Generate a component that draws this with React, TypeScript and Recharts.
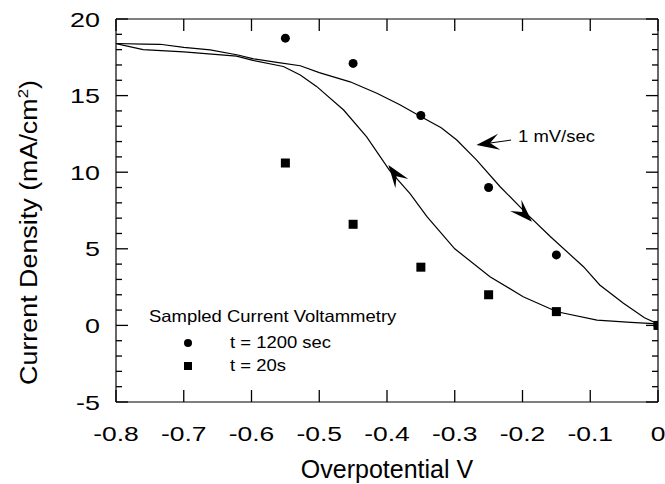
import React from 'react';
import { ComposedChart, Line, Scatter, XAxis, YAxis, ReferenceDot, Legend, Label } from 'recharts';

const FONT = '"Liberation Sans", Arial, Helvetica, sans-serif';

const xTicks = [-0.8, -0.7, -0.6, -0.5, -0.4, -0.3, -0.2, -0.1, 0];
const yTicks = [-5, -4, -3, -2, -1, 0, 1, 2, 3, 4, 5, 6, 7, 8, 9, 10, 11, 12, 13, 14, 15, 16, 17, 18, 19, 20];
const yLabelTicks = [-5, 0, 5, 10, 15, 20];

// 1 mV/sec sweep, forward (cathodic -> 0)
const forwardSweep = [
  { x: -0.8, y: 18.4 },
  { x: -0.76, y: 18.36 },
  { x: -0.735, y: 18.35 },
  { x: -0.7, y: 18.15 },
  { x: -0.661, y: 17.98 },
  { x: -0.62, y: 17.65 },
  { x: -0.597, y: 17.4 },
  { x: -0.56, y: 17.15 },
  { x: -0.528, y: 16.95 },
  { x: -0.5, y: 16.5 },
  { x: -0.4545, y: 15.9 },
  { x: -0.415, y: 15.15 },
  { x: -0.381, y: 14.4 },
  { x: -0.349, y: 13.6 },
  { x: -0.32, y: 12.9 },
  { x: -0.297, y: 12.1 },
  { x: -0.268, y: 10.8 },
  { x: -0.233, y: 9.05 },
  { x: -0.194, y: 7.3 },
  { x: -0.159, y: 5.8 },
  { x: -0.11, y: 3.83 },
  { x: -0.086, y: 2.64 },
  { x: -0.051, y: 1.44 },
  { x: -0.02, y: 0.5 },
  { x: 0, y: 0.1 },
];

// reverse sweep (0 -> cathodic)
const reverseSweep = [
  { x: -0.8, y: 18.4 },
  { x: -0.76, y: 18.0 },
  { x: -0.7, y: 17.85 },
  { x: -0.622, y: 17.58 },
  { x: -0.598, y: 17.3 },
  { x: -0.553, y: 16.9 },
  { x: -0.528, y: 16.35 },
  { x: -0.504, y: 15.6 },
  { x: -0.464, y: 14.06 },
  { x: -0.43, y: 12.3 },
  { x: -0.396, y: 10.1 },
  { x: -0.366, y: 8.6 },
  { x: -0.341, y: 7.1 },
  { x: -0.3, y: 5.0 },
  { x: -0.248, y: 3.18 },
  { x: -0.199, y: 1.87 },
  { x: -0.149, y: 0.89 },
  { x: -0.09, y: 0.35 },
  { x: -0.04, y: 0.2 },
  { x: 0, y: 0.1 },
];

const sampled1200 = [
  { x: -0.55, y: 18.75 },
  { x: -0.45, y: 17.1 },
  { x: -0.35, y: 13.7 },
  { x: -0.25, y: 9.0 },
  { x: -0.15, y: 4.6 },
  { x: 0, y: 0 },
];

const sampled20 = [
  { x: -0.55, y: 10.6 },
  { x: -0.45, y: 6.6 },
  { x: -0.35, y: 3.8 },
  { x: -0.25, y: 2.0 },
  { x: -0.15, y: 0.9 },
  { x: 0, y: 0 },
];

const arrowMarks = [
  { x: -0.398, y: 10.47, angle: -126, tail: 0 },
  { x: -0.186, y: 6.77, angle: 45, tail: 0 },
  { x: -0.268, y: 11.78, angle: 172, tail: 35 },
];

const annotation = { x: -0.2066, y: 11.97, text: '1 mV/sec' };
const legendTitle = 'Sampled Current Voltammetry';

const fmtX = (v: number) => (v === 0 ? '0' : v.toFixed(1));

const TW = 1.3;

const LeftTick = (p: any) => {
  const { x, y, payload } = p;
  const v = payload.value;
  const major = yLabelTicks.includes(v);
  return (
    <g>
      <rect x={x} y={y - TW / 2} width={major ? 12 : 6} height={TW} fill="#000" />
      {major && (
        <text transform={`translate(${x - 16},${y + 7.5}) scale(1.28,1)`} textAnchor="end" fontSize={21} fontFamily={FONT} fill="#000">
          {v}
        </text>
      )}
    </g>
  );
};

const RightTick = (p: any) => {
  const { x, y, payload } = p;
  const len = yLabelTicks.includes(payload.value) ? 12 : 6;
  return <rect x={x - len} y={y - TW / 2} width={len} height={TW} fill="#000" />;
};

const BottomTick = (p: any) => {
  const { x, y, payload } = p;
  return (
    <g>
      <rect x={x - TW / 2} y={y - 12} width={TW} height={12} fill="#000" />
      <text transform={`translate(${x},${y + 39}) scale(1.26,1)`} textAnchor="middle" fontSize={21} fontFamily={FONT} fill="#000">
        {fmtX(payload.value)}
      </text>
    </g>
  );
};

const TopTick = (p: any) => {
  const { x, y } = p;
  return <rect x={x - TW / 2} y={y} width={TW} height={12} fill="#000" />;
};

const XTitle = (p: any) => {
  const vb = p.viewBox;
  return (
    <text x={vb.x + vb.width / 2} y={vb.y + 76} textAnchor="middle" fontSize={25} fontFamily={FONT} fill="#000">
      Overpotential V
    </text>
  );
};

const YTitle = (p: any) => {
  const vb = p.viewBox;
  const cx = vb.x + 37;
  const cy = vb.y + vb.height / 2 + 22;
  return (
    <text transform={`translate(${cx},${cy}) rotate(-90) scale(1.12,1)`} textAnchor="middle" fontSize={24} fontFamily={FONT} fill="#000">
      <tspan>Current Density (mA/cm</tspan>
      <tspan dy={-9} fontSize={15}>2</tspan>
      <tspan dy={9}>)</tspan>
    </text>
  );
};

const Arrow = ({ cx, cy, angle, tail }: any) => {
  const L = 23;
  const W = 16;
  return (
    <g transform={`translate(${cx},${cy}) rotate(${angle})`}>
      {tail > 0 && <rect x={-tail} y={-0.5} width={tail - L * 0.6} height={1} fill="#000" />}
      <path d={`M0,0 L${-L},${-W / 2} L${-L * 0.6},0 L${-L},${W / 2} Z`} fill="#000" />
    </g>
  );
};

const LegendBox = (props: any) => {
  const items = (props.payload || []).filter((e: any) => e.type !== 'none');
  return (
    <svg width={300} height={80} style={{ overflow: 'visible' }}>
      <text transform="translate(9,21.7) scale(1.12,1)" fontSize={16.5} fontFamily={FONT} fill="#000">
        {legendTitle}
      </text>
      {items.map((e: any, i: number) => {
        const cy = 43 + i * 23;
        return (
          <g key={i}>
            {e.type === 'square' ? (
              <rect x={48 - 4} y={cy - 4} width={8} height={8} fill="#000" />
            ) : (
              <circle cx={48} cy={cy} r={4} fill="#000" />
            )}
            <text transform={`translate(90,${cy + 5}) scale(1.12,1)`} fontSize={16.5} fontFamily={FONT} fill="#000">
              {e.value}
            </text>
          </g>
        );
      })}
    </svg>
  );
};

export default function App() {
  return (
    <div style={{ position: 'absolute', left: 0, top: 0, width: 665, height: 484, background: '#fff' }}>
      <ComposedChart width={665} height={484} margin={{ top: 0, right: 0, bottom: 0, left: 0 }}>
        <XAxis xAxisId="b" dataKey="x" type="number" domain={[-0.8, 0]} ticks={xTicks} interval={0} height={82}
          tickSize={0} tickMargin={0} tickLine={false} axisLine={{ stroke: '#000', strokeWidth: 1.2 }} tick={<BottomTick />} allowDataOverflow>
          <Label content={<XTitle />} />
        </XAxis>
        <XAxis xAxisId="t" orientation="top" dataKey="x" type="number" domain={[-0.8, 0]} ticks={xTicks} interval={0} height={19}
          tickSize={0} tickMargin={0} tickLine={false} axisLine={{ stroke: '#000', strokeWidth: 1.2 }} tick={<TopTick />} allowDataOverflow />
        <YAxis yAxisId="l" dataKey="y" type="number" domain={[-5, 20]} ticks={yTicks} interval={0} width={116}
          tickSize={0} tickMargin={0} tickLine={false} axisLine={{ stroke: '#000', strokeWidth: 1.2 }} tick={<LeftTick />} allowDataOverflow>
          <Label content={<YTitle />} />
        </YAxis>
        <YAxis yAxisId="r" orientation="right" dataKey="y" type="number" domain={[-5, 20]} ticks={yTicks} interval={0} width={7}
          tickSize={0} tickMargin={0} tickLine={false} axisLine={{ stroke: '#000', strokeWidth: 1.2 }} tick={<RightTick />} allowDataOverflow />
        <Line data={forwardSweep} dataKey="y" xAxisId="b" yAxisId="l" type="linear" stroke="#000" strokeWidth={1.2} dot={false} legendType="none" isAnimationActive={false} />
        <Line data={reverseSweep} dataKey="y" xAxisId="b" yAxisId="l" type="linear" stroke="#000" strokeWidth={1.2} dot={false} legendType="none" isAnimationActive={false} />
        <Scatter name="t = 1200 sec" data={sampled1200} dataKey="y" xAxisId="b" yAxisId="l" legendType="circle" fill="#000" isAnimationActive={false}
          shape={(p: any) => <circle cx={p.cx} cy={p.cy} r={4.5} fill="#000" />} />
        <Scatter name="t = 20s" data={sampled20} dataKey="y" xAxisId="b" yAxisId="l" legendType="square" fill="#000" isAnimationActive={false}
          shape={(p: any) => <rect x={p.cx - 4.5} y={p.cy - 4.5} width={9} height={9} fill="#000" />} />
        {arrowMarks.map((a, i) => (
          <ReferenceDot key={i} x={a.x} y={a.y} xAxisId="b" yAxisId="l" r={0} ifOverflow="visible"
            shape={(p: any) => <Arrow cx={p.cx} cy={p.cy} angle={a.angle} tail={a.tail} />} />
        ))}
        <ReferenceDot x={annotation.x} y={annotation.y} xAxisId="b" yAxisId="l" r={0} ifOverflow="visible"
          shape={(p: any) => (
            <text transform={`translate(${p.cx},${p.cy}) scale(1.12,1)`} fontSize={16.5} fontFamily={FONT} fill="#000">
              {annotation.text}
            </text>
          )} />
        <Legend layout="horizontal" verticalAlign="middle" align="center" wrapperStyle={{ left: 140, top: 300, width: 300, height: 80 }}
          content={(p: any) => <LegendBox payload={p.payload} />} />
      </ComposedChart>
    </div>
  );
}
